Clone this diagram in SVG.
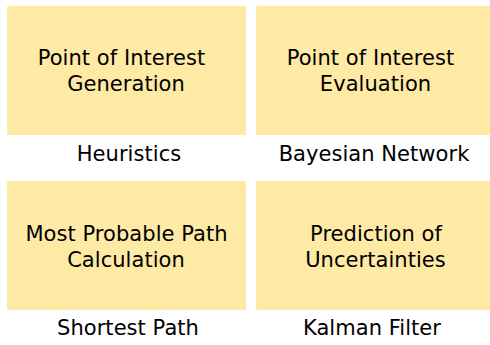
<svg xmlns="http://www.w3.org/2000/svg" width="490" height="345" viewBox="0 0 490 345">
<style>
.box{fill:#FEE9A5;}
.t{font-family:"DejaVu Sans","Verdana",sans-serif;font-size:21px;letter-spacing:0.05px;fill:#000;text-anchor:middle;}
</style>
<rect width="490" height="345" fill="#fff"/>
<g id="poi-generation">
<rect class="box" x="7" y="6" width="239" height="129" rx="1.5"/>
<text class="t" x="121.5" y="65">Point of Interest</text>
<text class="t" x="126" y="91">Generation</text>
<text class="t" x="129" y="161">Heuristics</text>
</g>
<g id="poi-evaluation">
<rect class="box" x="256" y="6" width="239" height="129" rx="1.5"/>
<text class="t" x="370.5" y="65">Point of Interest</text>
<text class="t" x="375.5" y="91">Evaluation</text>
<text class="t" x="374" y="161">Bayesian Network</text>
</g>
<g id="most-probable-path">
<rect class="box" x="7" y="181" width="239" height="129" rx="1.5"/>
<text class="t" x="126.5" y="240.5">Most Probable Path</text>
<text class="t" x="126" y="266.5">Calculation</text>
<text class="t" x="128" y="335">Shortest Path</text>
</g>
<g id="prediction-uncertainties">
<rect class="box" x="256" y="181" width="239" height="129" rx="1.5"/>
<text class="t" x="376" y="240.5">Prediction of</text>
<text class="t" x="375.5" y="266.5">Uncertainties</text>
<text class="t" x="372" y="335">Kalman Filter</text>
</g>
<g id="connectors"></g>
</svg>
